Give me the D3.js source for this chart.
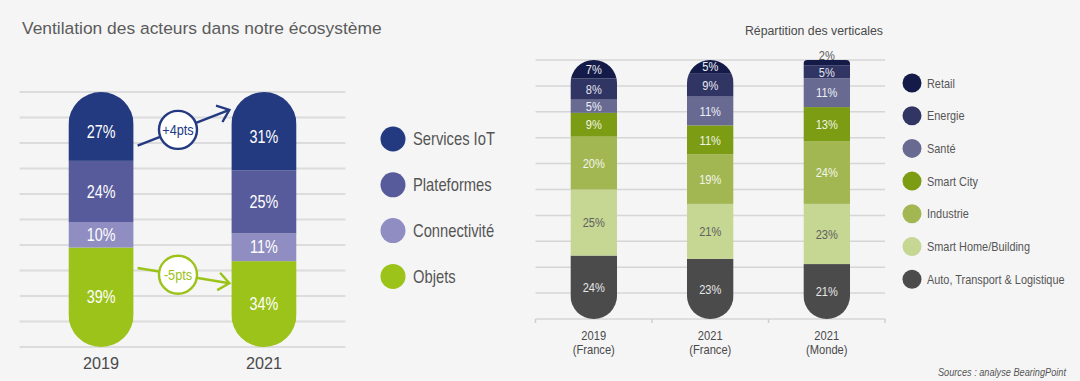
<!DOCTYPE html>
<html><head><meta charset="utf-8">
<script src="https://cdn.jsdelivr.net/npm/d3@7"></script>
<style>
html,body{margin:0;padding:0;background:#f5f5f5;}
svg{display:block;}
text{font-family:"Liberation Sans",Arial,sans-serif;}
</style></head><body>
<svg id="chart" width="1080" height="381"></svg>
<script>
// ---------- DATA: left chart ----------
const leftTitle = "Ventilation des acteurs dans notre écosystème";
const leftYears = ["2019", "2021"];
const leftSeries = ["Services IoT", "Plateformes", "Connectivité", "Objets"]; // top -> bottom
const servicesIoT = [27, 31];
const plateformes = [24, 25];
const connectivite = [10, 11];
const objets = [39, 34];
// change annotations: series, label, anchor levels (share of bar height) at 2019 and at 2021
const annotSeries = ["Services IoT", "Objets"];
const annotLabels = ["+4pts", "-5pts"];
const annotFrom = [0.79, 0.31];
const annotTo = [0.93, 0.25];

// ---------- DATA: right chart ----------
const rightTitle = "Répartition des verticales";
const rightYears = ["2019", "2021", "2021"];
const rightRegions = ["(France)", "(France)", "(Monde)"];
const rightSeries = ["Retail", "Energie", "Santé", "Smart City", "Industrie", "Smart Home/Building", "Auto, Transport & Logistique"]; // top -> bottom
const retail = [7, 5, 2];
const energie = [8, 9, 5];
const sante = [5, 11, 11];
const smartCity = [9, 11, 13];
const industrie = [20, 19, 24];
const smartHome = [25, 21, 23];
const autoTransport = [24, 23, 21];
const sourceText = "Sources : analyse BearingPoint";

// ---------- STYLE ----------
const leftColors = ["#233a80", "#575b9b", "#8f8dc1", "#9cc31a"];
const rightColors = ["#141b48", "#303563", "#686a92", "#7b9c13", "#a2b752", "#c6d693", "#4b4b4b"];
const rightLabelColors = ["#eef0f6", "#e6e7f0", "#eef0f6", "#f2f5e6", "#f4f6ec", "#606060", "#e8e8e8"];
const NARROW = 0.82;

const svg = d3.select("#chart");

// condensed text: horizontally compressed real text
function ntext(parent, x, y, size, sx) {
  return parent.append("text")
    .attr("transform", `translate(${x},${y}) scale(${sx || NARROW},1)`)
    .attr("font-size", size);
}

function pillPath(x, top, w, h, rt, rb) {
  return `M${x},${top + rt} A${rt},${rt} 0 0 1 ${x + rt},${top} L${x + w - rt},${top} A${rt},${rt} 0 0 1 ${x + w},${top + rt}` +
         ` L${x + w},${top + h - rb} A${rb},${rb} 0 0 1 ${x + w - rb},${top + h} L${x + rb},${top + h} A${rb},${rb} 0 0 1 ${x},${top + h - rb} Z`;
}

// ================= LEFT CHART =================
const leftVals = [servicesIoT, plateformes, connectivite, objets];
const leftRows = leftYears.map((yr, i) => {
  const r = { year: yr };
  leftSeries.forEach((s, k) => r[s] = leftVals[k][i]);
  return r;
});
const xL = d3.scaleBand().domain(leftYears).range([19.6, 345.4]).paddingInner(0.6).paddingOuter(0.3);
const yL = d3.scaleLinear().domain([0, 1]).range([347, 92]);
const colL = d3.scaleOrdinal().domain(leftSeries).range(leftColors);
const stackL = d3.stack().keys(leftSeries.slice().reverse()).offset(d3.stackOffsetExpand)(leftRows);

svg.append("text").attr("x", 22).attr("y", 34)
  .attr("font-size", 17.4).attr("fill", "#5b5b5b").text(leftTitle);

svg.append("g").selectAll("line").data(yL.ticks(10)).join("line")
  .attr("x1", 19.6).attr("x2", 345.4).attr("y1", d => yL(d)).attr("y2", d => yL(d))
  .attr("stroke", "#dcdcdc").attr("stroke-width", 1.8);

const bwL = xL.bandwidth();
const defs = svg.append("defs");
leftYears.forEach((yr, i) => {
  defs.append("clipPath").attr("id", "clipL" + i).append("path")
    .attr("d", pillPath(xL(yr), yL(1), bwL, yL(0) - yL(1), bwL / 2, bwL / 2));
});
const gL = svg.append("g");
stackL.forEach(layer => {
  const key = layer.key;
  layer.forEach((d, i) => {
    gL.append("rect").attr("clip-path", `url(#clipL${i})`)
      .attr("x", xL(leftYears[i])).attr("width", bwL)
      .attr("y", yL(d[1])).attr("height", yL(d[0]) - yL(d[1]))
      .attr("fill", colL(key));
  });
});
stackL.forEach(layer => {
  const key = layer.key;
  layer.forEach((d, i) => {
    const isTop = key === leftSeries[0];
    const top = yL(d[1]) + (isTop ? bwL / 6 : 0);
    ntext(gL, xL(leftYears[i]) + bwL / 2, (top + yL(d[0])) / 2, 17.5)
      .attr("dy", "0.35em").attr("text-anchor", "middle")
      .attr("fill", "#ffffff").text(d.data[key] + "%");
  });
});
svg.append("g").selectAll("text").data(leftYears).join("text")
  .attr("x", d => xL(d) + bwL / 2).attr("y", 369).attr("text-anchor", "middle")
  .attr("font-size", 16.2).attr("fill", "#4a4a4a").text(d => d);

// annotations
annotLabels.forEach((lab, k) => {
  const c = colL(annotSeries[k]);
  const x0 = xL(leftYears[0]) + bwL + 4, y0 = yL(annotFrom[k]);
  const x1 = xL(leftYears[1]) - 2, y1 = yL(annotTo[k]);
  const g = svg.append("g");
  g.append("line").attr("x1", x0).attr("y1", y0).attr("x2", x1).attr("y2", y1)
    .attr("stroke", c).attr("stroke-width", 2.4);
  const ang = Math.atan2(y0 - y1, x0 - x1), L = 14, a = 0.68;
  g.append("path").attr("d", `M${x1 + L * Math.cos(ang + a)},${y1 + L * Math.sin(ang + a)} L${x1},${y1} L${x1 + L * Math.cos(ang - a)},${y1 + L * Math.sin(ang - a)}`)
    .attr("fill", "none").attr("stroke", c).attr("stroke-width", 2.4).attr("stroke-linejoin", "miter");
  const t = 0.44, cx = x0 + (x1 - x0) * t, cy = y0 + (y1 - y0) * t;
  g.append("circle").attr("cx", cx).attr("cy", cy).attr("r", 19)
    .attr("fill", "#ffffff").attr("stroke", c).attr("stroke-width", 2.4);
  ntext(g, cx, cy, 15.5).attr("dy", "0.35em").attr("text-anchor", "middle")
    .attr("fill", c).text(lab);
});

// left legend
const legL = svg.append("g");
leftSeries.forEach((s, i) => {
  const cy = 139 + i * 45.8;
  legL.append("circle").attr("cx", 393).attr("cy", cy).attr("r", 12.5).attr("fill", colL(s));
  ntext(legL, 413, cy, 18).attr("dy", "0.35em").attr("fill", "#555").text(s);
});

// ================= RIGHT CHART =================
const rightVals = [retail, energie, sante, smartCity, industrie, smartHome, autoTransport];
const rightCats = rightYears.map((y, i) => y + " " + rightRegions[i]);
const rightRows = rightCats.map((c, i) => {
  const r = { cat: c };
  rightSeries.forEach((s, k) => r[s] = rightVals[k][i]);
  return r;
});
const xR = d3.scaleBand().domain(rightCats).range([535.5, 885]).paddingInner(0.6).paddingOuter(0.3);
const yR = d3.scaleLinear().domain([0, 1]).range([319, 60]);
const colR = d3.scaleOrdinal().domain(rightSeries).range(rightColors);
const labR = d3.scaleOrdinal().domain(rightSeries).range(rightLabelColors);
const stackR = d3.stack().keys(rightSeries.slice().reverse()).offset(d3.stackOffsetExpand)(rightRows);

svg.append("text").attr("x", 814).attr("y", 34.5).attr("text-anchor", "middle")
  .attr("font-size", 12.3).attr("fill", "#4a4a4a").text(rightTitle);

svg.append("g").selectAll("line").data(yR.ticks(10)).join("line")
  .attr("x1", 535.5).attr("x2", 885).attr("y1", d => yR(d)).attr("y2", d => yR(d))
  .attr("stroke", "#d6d6d6").attr("stroke-width", 1.5);
// axis tick marks at band boundaries
const bounds = rightCats.map(c => xR(c) - (xR.step() - xR.bandwidth()) / 2);
bounds.push(xR.range()[1]);
svg.append("g").selectAll("line").data(bounds).join("line")
  .attr("x1", d => d).attr("x2", d => d).attr("y1", yR(0)).attr("y2", yR(0) + 4)
  .attr("stroke", "#cfcfcf").attr("stroke-width", 1.5);

const bwR = xR.bandwidth();
rightCats.forEach((c, i) => {
  const topSmall = rightVals[0][i] < 3;
  defs.append("clipPath").attr("id", "clipR" + i).append("path")
    .attr("d", pillPath(xR(c), yR(1), bwR, yR(0) - yR(1), topSmall ? 4 : bwR / 2, bwR / 2));
});
const gR = svg.append("g");
stackR.forEach(layer => {
  const key = layer.key;
  layer.forEach((d, i) => {
    gR.append("rect").attr("clip-path", `url(#clipR${i})`)
      .attr("x", xR(rightCats[i])).attr("width", bwR)
      .attr("y", yR(d[1])).attr("height", yR(d[0]) - yR(d[1]))
      .attr("fill", colR(key));
  });
});
stackR.forEach(layer => {
  const key = layer.key;
  layer.forEach((d, i) => {
    const v = d.data[key];
    const small = v < 3;
    ntext(gR, xR(rightCats[i]) + bwR / 2, small ? yR(1) - 5 : (yR(d[0]) + yR(d[1])) / 2, 13.5)
      .attr("dy", "0.35em").attr("text-anchor", "middle")
      .attr("fill", small ? "#555" : labR(key)).text(v + "%");
  });
});
rightCats.forEach((c, i) => {
  const cx = xR(c) + bwR / 2;
  ntext(svg, cx, 339.5, 12.4, 0.9).attr("text-anchor", "middle").attr("fill", "#4a4a4a").text(rightYears[i]);
  ntext(svg, cx, 354, 12.4, 0.9).attr("text-anchor", "middle").attr("fill", "#4a4a4a").text(rightRegions[i]);
});

// right legend
const legR = svg.append("g");
rightSeries.forEach((s, i) => {
  const cy = 83 + i * 32.7;
  legR.append("circle").attr("cx", 912).attr("cy", cy).attr("r", 9.5).attr("fill", colR(s));
  ntext(legR, 927, cy, 13.3).attr("dy", "0.35em").attr("fill", "#555").text(s);
});

ntext(svg, 1066, 376, 11.2).attr("text-anchor", "end")
  .attr("font-style", "italic").attr("fill", "#555").text(sourceText);
</script>
</body></html>
